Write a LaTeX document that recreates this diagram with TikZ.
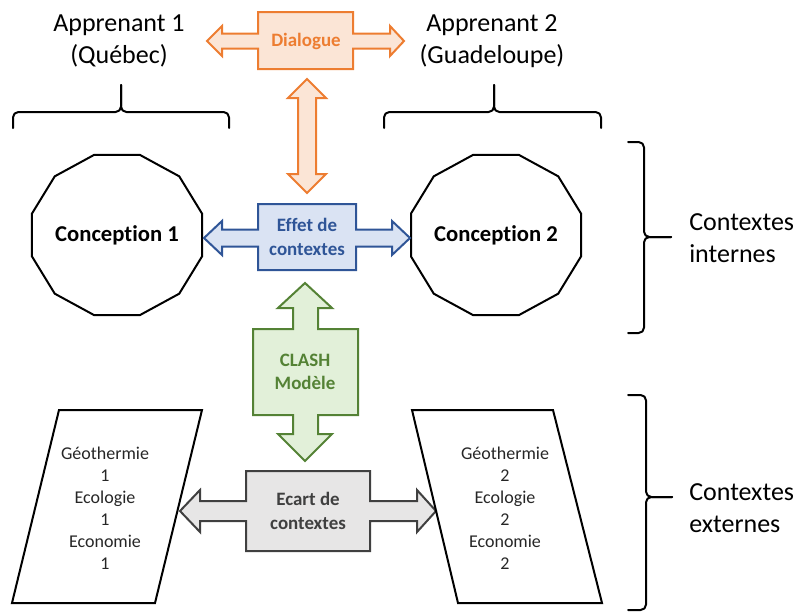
\documentclass[tikz,border=0pt]{standalone}
\usepackage{fontspec}
\setmainfont{Carlito}[Ligatures=NoCommon]
\definecolor{orgline}{HTML}{ED7D31}
\definecolor{orgfill}{HTML}{FBE5D6}
\definecolor{bluline}{HTML}{2F5597}
\definecolor{blufill}{HTML}{DAE3F3}
\definecolor{grnline}{HTML}{548235}
\definecolor{grnfill}{HTML}{E2F0D9}
\definecolor{gryline}{HTML}{404040}
\definecolor{gryfill}{HTML}{E7E6E6}
\tikzset{
  outline/.style={line width=1.5pt,line join=miter},
  braceline/.style={line width=1.5pt,rounded corners=4pt},
  callout/.style={font=\fontsize{14.2}{17.5}\selectfont\bfseries,align=center,inner sep=0pt},
  concept/.style={font=\fontsize{17}{20}\selectfont\bfseries,inner sep=0pt},
  bigtxt/.style={font=\fontsize{19.5}{24}\selectfont,align=center,inner sep=0pt},
  smalltxt/.style={font=\fontsize{13.5}{16.5}\selectfont,align=center,text=black!85,inner sep=0pt}
}
\begin{document}
\begin{tikzpicture}[x=0.75pt,y=-0.75pt,line join=round,line cap=round]
	\useasboundingbox (0,0) rectangle (796,614);
	\path (117,235) coordinate (C1)
	(496,235) coordinate (C2)
	;
	% conceptions (dodecagones)
	\foreach \c in {C1,C2}
	\draw[outline] (\c) +(15:88 and 83) \foreach \a in {45,75,...,345}{-- +(\a:88 and 83)} -- cycle;
	\node[concept] (conc1) at (C1) {Conception 1};
	\node[concept] (conc2) at (C2) {Conception 2};
	
	% dialogue
	\draw[outline,draw=orgline,fill=orgfill] (258,12) -- (353,12) -- (353,33.5) -- (390,33.5) -- (390,26) -- (404,41) -- (390,56) -- (390,48.5) -- (353,48.5) -- (353,69) -- (258,69) -- (258,48.5) -- (222,48.5) -- (222,56) -- (207,41) -- (222,26) -- (222,33.5) -- (258,33.5) -- cycle;
	\node[callout,text=orgline] (dial) at (306,41) {Dialogue};
	\draw[outline,draw=orgline,fill=orgfill] (307,79) -- (326,98) -- (316,98) -- (316,174) -- (326,174) -- (307,193) -- (288,174) -- (298,174) -- (298,98) -- (288,98) -- cycle;
	
	% effet de contextes
	\draw[outline,draw=bluline,fill=blufill] (258,204) -- (356,204) -- (356,229.5) -- (392,229.5) -- (392,221) -- (410,238) -- (392,255) -- (392,246.5) -- (356,246.5) -- (356,270) -- (258,270) -- (258,246.5) -- (222,246.5) -- (222,255) -- (204,238) -- (222,221) -- (222,229.5) -- (258,229.5) -- cycle;
	\node[callout,text=bluline] (effet) at (307,237) {Effet de\\contextes};
	
	% CLASH
	\draw[outline,draw=grnline,fill=grnfill] (305,283) -- (332,308) -- (318,308) -- (318,329) -- (358,329) -- (358,415) -- (318,415) -- (318,434) -- (332,434) -- (305,461) -- (278,434) -- (293,434) -- (293,415) -- (253,415) -- (253,329) -- (293,329) -- (293,308) -- (278,308) -- cycle;
	\node[callout,text=grnline] (clash) at (305,372) {CLASH\\Modèle};
	
	% ecart de contextes
	\draw[outline,draw=gryline,fill=gryfill] (246,471) -- (370,471) -- (370,501) -- (417,501) -- (417,490) -- (436,511) -- (417,532) -- (417,521) -- (370,521) -- (370,551) -- (246,551) -- (246,521) -- (200,521) -- (200,532) -- (180,511) -- (200,490) -- (200,501) -- (246,501) -- cycle;
	\node[callout,text=gryline] (ecart) at (308,511) {Ecart de\\contextes};
	
	% contextes externes (parallelogrammes)
	\draw[outline] (59,410) -- (202,410) -- (155,603) -- (12,603) -- cycle;
	\draw[outline] (412,410) -- (553,410) -- (602,603) -- (458,603) -- cycle;
	\node[smalltxt] (geo1) at (105,508) {Géothermie\\1\\Ecologie\\1\\Economie\\1};
	\node[smalltxt] (geo2) at (505,508) {Géothermie\\2\\Ecologie\\2\\Economie\\2};
	
	% accolades
	\foreach \l/\r/\m in {13/229/121,384/601/494}{
		\draw[braceline] (\l,128) -- (\l,112) -- (\m,112) -- (\m,85);
		\draw[braceline] (\r,128) -- (\r,112) -- (\m,112) -- (\m,85);
	}
	\foreach \t/\b/\m/\s/\p in {142/333/237/644/671,395/610/497/646/672}{
		\draw[braceline] (628,\t) -- (\s,\t) -- (\s,\m) -- (\p,\m);
		\draw[braceline] (628,\b) -- (\s,\b) -- (\s,\m) -- (\p,\m);
	}
	
	\node[bigtxt] (app1) at (119,41) {Apprenant 1\\(Québec)};
	\node[bigtxt] (app2) at (492,41) {Apprenant 2\\(Guadeloupe)};
	\node[bigtxt,anchor=west,align=left] (internes) at (689,238) {Contextes\\internes};
	\node[bigtxt,anchor=west,align=left] (externes) at (689,508) {Contextes\\externes};
\end{tikzpicture}
\end{document}
